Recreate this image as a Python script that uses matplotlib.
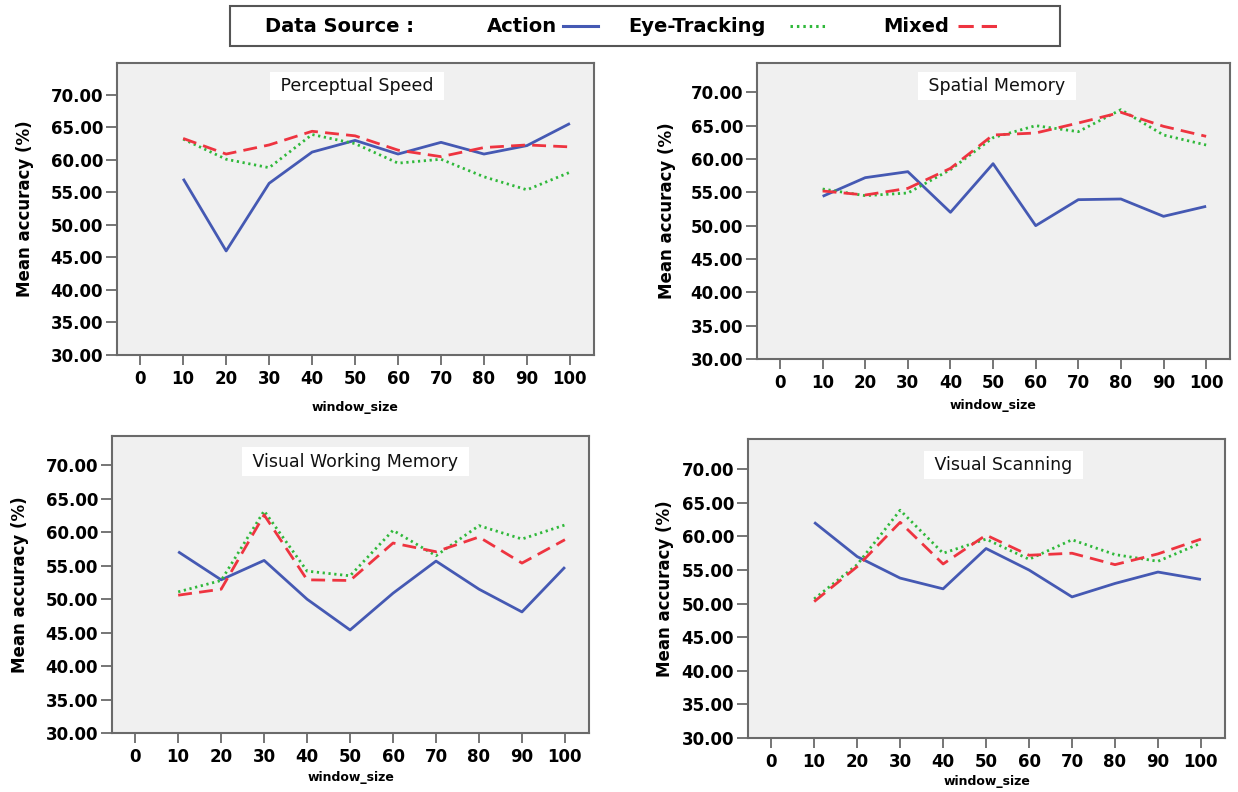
import matplotlib
matplotlib.use("Agg")
import matplotlib.pyplot as plt
from matplotlib.lines import Line2D
from matplotlib.patches import Rectangle
from matplotlib.ticker import FormatStrFormatter

# ---- data -------------------------------------------------------------
window_size = [10, 20, 30, 40, 50, 60, 70, 80, 90, 100]
x_ticks = [0, 10, 20, 30, 40, 50, 60, 70, 80, 90, 100]
y_ticks = [30, 35, 40, 45, 50, 55, 60, 65, 70]

panel_titles = ["Perceptual Speed", "Spatial Memory",
                "Visual Working Memory", "Visual Scanning"]

ps_action = [57.1, 46.0, 56.4, 61.2, 63.0, 60.9, 62.7, 60.9, 62.2, 65.6]
ps_eye    = [63.2, 60.1, 58.8, 63.9, 62.5, 59.5, 60.1, 57.4, 55.4, 58.1]
ps_mixed  = [63.3, 60.9, 62.3, 64.4, 63.7, 61.5, 60.5, 61.9, 62.3, 62.0]

sm_action = [54.4, 57.2, 58.1, 52.0, 59.3, 50.0, 53.9, 54.0, 51.4, 52.9]
sm_eye    = [55.5, 54.5, 54.9, 58.4, 63.2, 65.0, 64.1, 67.4, 63.6, 62.1]
sm_mixed  = [55.2, 54.6, 55.6, 58.6, 63.6, 63.9, 65.4, 67.0, 64.9, 63.4]

vwm_action = [57.1, 52.9, 55.8, 50.0, 45.4, 50.9, 55.7, 51.5, 48.1, 54.8]
vwm_eye    = [51.1, 52.8, 63.2, 54.2, 53.5, 60.3, 56.5, 61.0, 59.0, 61.1]
vwm_mixed  = [50.6, 51.5, 62.6, 52.9, 52.8, 58.4, 57.1, 59.3, 55.4, 58.9]

vs_action = [62.1, 57.0, 53.8, 52.2, 58.2, 55.0, 51.0, 53.0, 54.7, 53.6]
vs_eye    = [50.7, 55.8, 63.9, 57.5, 59.6, 56.6, 59.5, 57.3, 56.3, 59.0]
vs_mixed  = [50.3, 55.5, 62.1, 55.9, 60.2, 57.2, 57.5, 55.8, 57.4, 59.6]

series_names = ["Action", "Eye-Tracking", "Mixed"]

# ---- styling ----------------------------------------------------------
W, H = 1238, 792
DPI = 100
BLUE = "#4559b3"
GREEN = "#2fb83a"
RED = "#ee3440"
SPINE = "#6a6a6a"
LW = 2.0
styles = {
    "Action": dict(color=BLUE, linestyle="-"),
    "Eye-Tracking": dict(color=GREEN, linestyle=(0, (0.8, 1.3))),
    "Mixed": dict(color=RED, linestyle=(0, (5, 2.6))),
}

fig = plt.figure(figsize=(W / DPI, H / DPI), dpi=DPI, facecolor="white")


def px_rect(left, right, top, bottom):
    return [left / W, 1 - bottom / H, (right - left) / W, (bottom - top) / H]


# (left, right, top, bottom) in pixels, ylim top, title pos, ylabel x, xlabel y
panels = [
    dict(rect=(117, 594, 63, 355), ytop=74.9, title_xy=(0.503, 0.921),
         ylab_px=25, xlab_px=407,
         data=(ps_action, ps_eye, ps_mixed)),
    dict(rect=(757, 1230, 63, 359), ytop=74.4, title_xy=(0.507, 0.922),
         ylab_px=667, xlab_px=406,
         data=(sm_action, sm_eye, sm_mixed)),
    dict(rect=(112, 589, 436, 733), ytop=74.4, title_xy=(0.511, 0.914),
         ylab_px=20, xlab_px=777,
         data=(vwm_action, vwm_eye, vwm_mixed)),
    dict(rect=(748, 1225, 439, 738), ytop=74.5, title_xy=(0.535, 0.913),
         ylab_px=665, xlab_px=781,
         data=(vs_action, vs_eye, vs_mixed)),
]

for p, title in zip(panels, panel_titles):
    l, r, t, b = p["rect"]
    ax = fig.add_axes(px_rect(l, r, t, b))
    ax.set_facecolor("#f0f0f0")
    for name, ys in zip(series_names, p["data"]):
        ax.plot(window_size, ys, linewidth=LW, solid_capstyle="butt",
                dash_capstyle="butt", **styles[name])
    ax.set_xlim(-5.4, 105.6)
    ax.set_ylim(30, p["ytop"])
    ax.set_xticks(x_ticks)
    ax.set_yticks(y_ticks)
    ax.yaxis.set_major_formatter(FormatStrFormatter("%.2f"))
    for s in ax.spines.values():
        s.set_color(SPINE)
        s.set_linewidth(1.5)
    ax.tick_params(axis="y", direction="out", length=8, width=1.3,
                   color=SPINE, pad=2, labelsize=12)
    ax.tick_params(axis="x", direction="out", length=7, width=1.3,
                   color=SPINE, pad=4, labelsize=12)
    for lab in ax.get_xticklabels() + ax.get_yticklabels():
        lab.set_fontweight("bold")
    ax.set_ylabel("Mean accuracy (%)", fontsize=12, fontweight="bold",
                  va="center")
    ax.yaxis.set_label_coords((p["ylab_px"] - l) / (r - l), 0.5)
    ax.set_xlabel("window_size", fontsize=9, fontweight="bold", va="center")
    ax.xaxis.set_label_coords(0.5, -(p["xlab_px"] - b) / (b - t))
    ax.text(p["title_xy"][0], p["title_xy"][1], " " + title + " ",
            transform=ax.transAxes, ha="center", va="center", fontsize=12.5,
            color="#111111",
            bbox=dict(boxstyle="square,pad=0.3", facecolor="white",
                      edgecolor="none"))

# ---- legend strip across the top --------------------------------------
fig.add_artist(Rectangle((230 / W, 1 - 46 / H), 830 / W, 40 / H,
                         transform=fig.transFigure, facecolor="white",
                         edgecolor="#555555", linewidth=1.5))
ly = 1 - 26 / H
fig.text(265 / W, ly, "Data Source :", fontsize=14, fontweight="bold",
         ha="left", va="center")
legend_items = [("Action", 487, 563, 598), ("Eye-Tracking", 628, 790, 828),
                ("Mixed", 883, 958, 1000)]
for name, tx, x0, x1 in legend_items:
    fig.text(tx / W, ly, name, fontsize=14, fontweight="bold",
             ha="left", va="center")
    fig.add_artist(Line2D([x0 / W, x1 / W], [ly, ly], transform=fig.transFigure,
                          linewidth=2.2, dash_capstyle="butt", **styles[name]))

fig.savefig("out.png", dpi=DPI, facecolor="white")
